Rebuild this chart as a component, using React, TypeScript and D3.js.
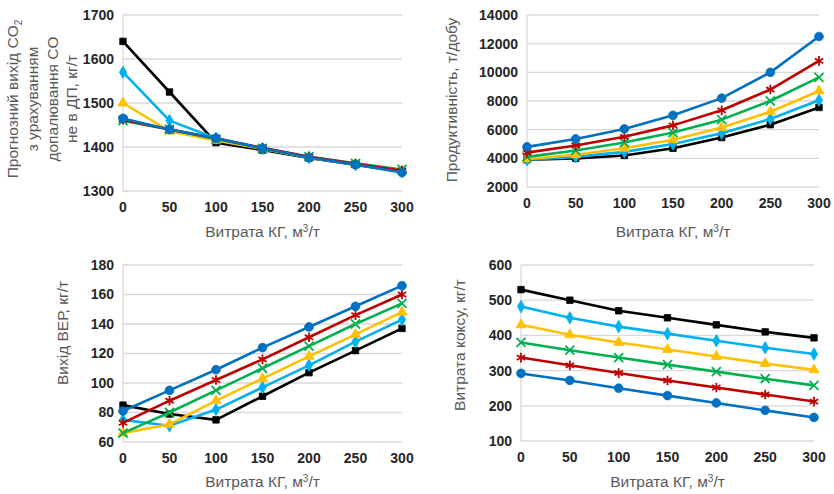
import React from "react";
import * as d3 from "d3";

// витрата природного газу, м3/т
const gasRate = [0, 50, 100, 150, 200, 250, 300];

// серії: порядок малювання знизу вгору
const seriesNames = ["black", "lightblue", "yellow", "green", "red", "blue"];
const seriesColors = ["#000000", "#00B0F0", "#FFC000", "#00B050", "#C00000", "#0070C0"];
const seriesMarkers = ["square", "diamond", "triangle", "times", "asterisk", "circle"];

// графік 1: прогнозний вихід CO2, кг/т
const co2Black = [1640, 1525, 1410, 1393, 1375, 1360, 1345];
const co2LightBlue = [1570, 1460, 1420, 1396, 1376, 1360, 1344];
const co2Yellow = [1500, 1436, 1415, 1396, 1376, 1361, 1346];
const co2Green = [1460, 1440, 1418, 1397, 1378, 1363, 1349];
const co2Red = [1462, 1440, 1420, 1398, 1378, 1362, 1346];
const co2Blue = [1465, 1440, 1420, 1397, 1376, 1360, 1342];
const co2Ticks = [1300, 1400, 1500, 1600, 1700];

// графік 2: продуктивність, т/добу
const prodBlack = [3900, 4000, 4200, 4700, 5450, 6350, 7550];
const prodLightBlue = [3900, 4100, 4450, 5000, 5750, 6750, 8050];
const prodYellow = [3950, 4250, 4700, 5300, 6150, 7250, 8700];
const prodGreen = [4100, 4550, 5100, 5800, 6700, 8000, 9650];
const prodRed = [4400, 4900, 5500, 6300, 7350, 8800, 10800];
const prodBlue = [4800, 5350, 6050, 7000, 8200, 10000, 12500];
const prodTicks = [2000, 4000, 6000, 8000, 10000, 12000, 14000];

// графік 3: вихід ВЕР, кг/т
const verBlack = [85, 79, 75, 91, 107, 122, 137];
const verLightBlue = [75, 71, 82, 97, 112, 128, 143];
const verYellow = [66, 72, 88, 103, 118, 133, 148];
const verGreen = [66, 80, 95, 110, 125, 140, 154];
const verRed = [73, 88, 102, 116, 131, 146, 160];
const verBlue = [81, 95, 109, 124, 138, 152, 166];
const verTicks = [60, 80, 100, 120, 140, 160, 180];

// графік 4: витрата коксу, кг/т
const cokeBlack = [530, 500, 470, 450, 430, 410, 393];
const cokeLightBlue = [482, 450, 425, 405, 385, 365, 347];
const cokeYellow = [430, 402, 380, 360, 340, 320, 302];
const cokeGreen = [380, 358, 337, 317, 297, 277, 258];
const cokeRed = [337, 315, 293, 272, 252, 232, 212];
const cokeBlue = [292, 272, 250, 229, 208, 187, 167];
const cokeTicks = [100, 200, 300, 400, 500, 600];

const FONT = "'Liberation Sans', Arial, sans-serif";

function Marker({ kind, x, y, color }: { kind: string; x: number; y: number; color: string }) {
  if (kind === "times" || kind === "asterisk") {
    const t = kind === "times" ? d3.symbolTimes : d3.symbolAsterisk;
    const p = d3.symbol().type(t).size(kind === "times" ? 55 : 65)();
    return <path d={p || ""} transform={`translate(${x},${y})`} fill="none" stroke={color} strokeWidth={1.8} />;
  }
  const typeMap: any = {
    square: d3.symbolSquare,
    diamond: d3.symbolDiamond,
    triangle: d3.symbolTriangle,
    circle: d3.symbolCircle,
  };
  const sz = kind === "circle" ? 60 : kind === "square" ? 42 : 45;
  const p = d3.symbol().type(typeMap[kind]).size(sz)();
  return <path d={p || ""} transform={`translate(${x},${y})`} fill={color} stroke={color} strokeWidth={0.8} />;
}

type PanelProps = {
  left: number;
  right: number;
  top: number;
  bottom: number;
  ticks: number[];
  series: number[][];
  title: string;
  titleX: number;
  titleY: number;
  xTitleY: number;
};

function Panel(p: PanelProps) {
  const x = d3.scaleLinear().domain([0, 300]).range([p.left, p.right]);
  const y = d3
    .scaleLinear()
    .domain([p.ticks[0], p.ticks[p.ticks.length - 1]])
    .range([p.bottom, p.top]);
  const line = d3
    .line<number>()
    .x((_, i) => x(gasRate[i]))
    .y((d) => y(d));
  return (
    <g>
      {p.ticks.map((t) => (
        <line key={t} x1={p.left} x2={p.right} y1={y(t)} y2={y(t)} stroke="#d9d9d9" strokeWidth={1.3} />
      ))}
      <line x1={p.left} x2={p.left} y1={p.top} y2={p.bottom} stroke="#d9d9d9" strokeWidth={1.3} />
      {p.ticks.map((t) => (
        <text
          key={t}
          x={p.left - 9}
          y={y(t)}
          dy="0.35em"
          textAnchor="end"
          fontFamily={FONT}
          fontWeight="bold"
          fontSize={14}
          fill="#262626"
        >
          {t}
        </text>
      ))}
      {gasRate.map((g) => (
        <text
          key={g}
          x={x(g)}
          y={p.bottom + 21}
          textAnchor="middle"
          fontFamily={FONT}
          fontWeight="bold"
          fontSize={14}
          fill="#262626"
        >
          {g}
        </text>
      ))}
      {p.series.map((s, i) => (
        <g key={seriesNames[i]}>
          <path d={line(s) || ""} fill="none" stroke={seriesColors[i]} strokeWidth={2.6} strokeLinejoin="round" />
          {s.map((v, j) => (
            <Marker key={j} kind={seriesMarkers[i]} x={x(gasRate[j])} y={y(v)} color={seriesColors[i]} />
          ))}
        </g>
      ))}
      <text
        x={(p.left + p.right) / 2}
        y={p.xTitleY}
        textAnchor="middle"
        fontFamily={FONT}
        fontSize={15.5}
        fill="#595959"
      >
        Витрата КГ, м<tspan dy={-5} fontSize={10}>3</tspan>
        <tspan dy={5}>/т</tspan>
      </text>
      {p.title && (
        <text
          transform={`translate(${p.titleX},${p.titleY}) rotate(-90)`}
          textAnchor="middle"
          fontFamily={FONT}
          fontSize={15.5}
          fill="#595959"
        >
          {p.title}
        </text>
      )}
    </g>
  );
}

export default function App() {
  return (
    <svg width={834} height={494} style={{ position: "absolute", left: 0, top: 0, background: "#fff" }}>
      <rect width={834} height={494} fill="#fff" />
      <Panel
        left={123}
        right={402}
        top={15}
        bottom={191}
        ticks={co2Ticks}
        series={[co2Black, co2LightBlue, co2Yellow, co2Green, co2Red, co2Blue]}
        title=""
        titleX={0}
        titleY={0}
        xTitleY={237}
      />
      <text
        transform="translate(18,99) rotate(-90)"
        textAnchor="middle"
        fontFamily={FONT}
        fontSize={15.5}
        fill="#595959"
      >
        <tspan x={0} dy={0}>
          Прогнозний вихід CO<tspan dy={4} fontSize={10}>2</tspan>
        </tspan>
        <tspan x={0} dy={16}>з урахуванням</tspan>
        <tspan x={0} dy={19.5}>допалювання CO</tspan>
        <tspan x={0} dy={19.5}>не в ДП, кг/т</tspan>
      </text>
      <Panel
        left={527}
        right={819}
        top={15}
        bottom={187}
        ticks={prodTicks}
        series={[prodBlack, prodLightBlue, prodYellow, prodGreen, prodRed, prodBlue]}
        title="Продуктивність, т/добу"
        titleX={457}
        titleY={100}
        xTitleY={237}
      />
      <Panel
        left={123}
        right={402}
        top={265}
        bottom={442}
        ticks={verTicks}
        series={[verBlack, verLightBlue, verYellow, verGreen, verRed, verBlue]}
        title="Вихід ВЕР, кг/т"
        titleX={68}
        titleY={333}
        xTitleY={487}
      />
      <Panel
        left={521}
        right={814}
        top={265}
        bottom={441}
        ticks={cokeTicks}
        series={[cokeBlack, cokeLightBlue, cokeYellow, cokeGreen, cokeRed, cokeBlue]}
        title="Витрата коксу, кг/т"
        titleX={465}
        titleY={345}
        xTitleY={487}
      />
    </svg>
  );
}
